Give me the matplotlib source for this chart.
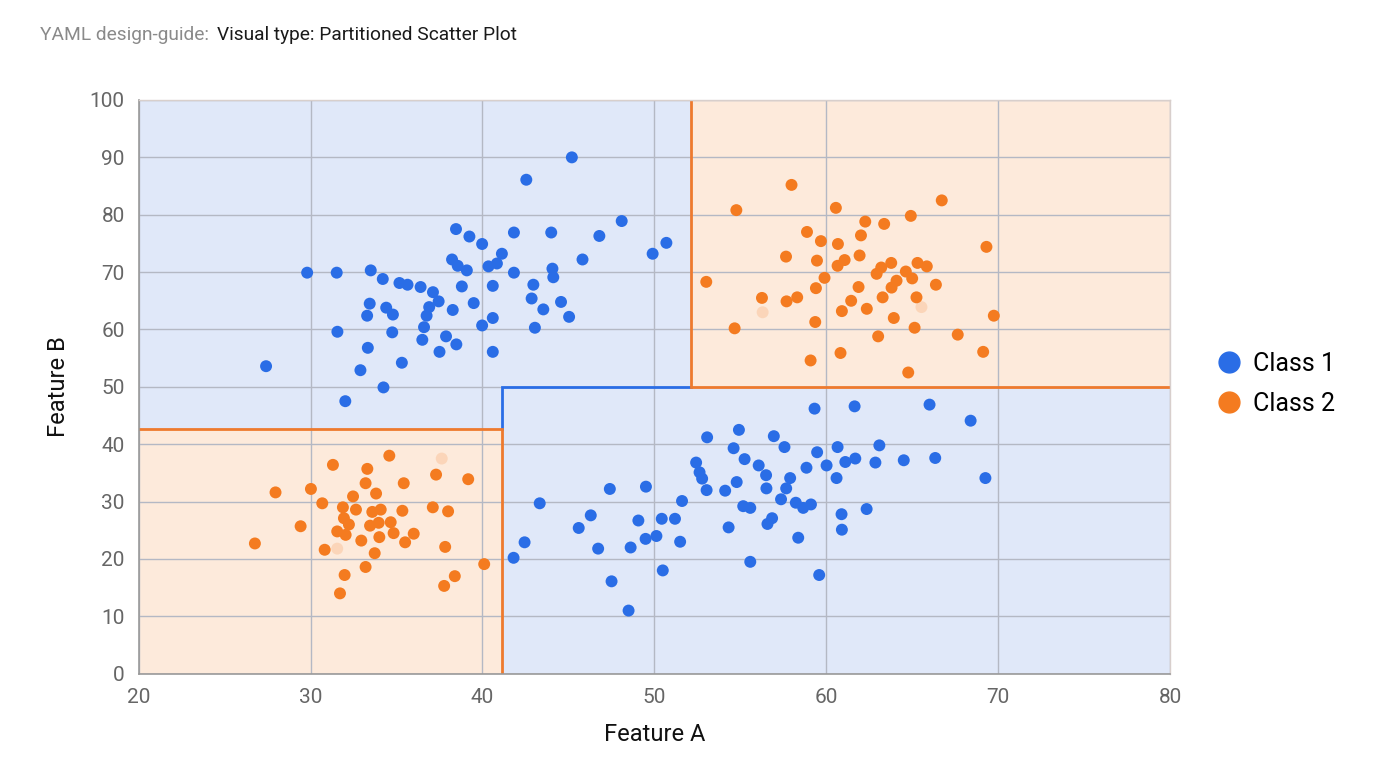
import numpy as np
import matplotlib.pyplot as plt
from matplotlib.lines import Line2D

# ---------------------------------------------------------------- data
class1_x = [45.2, 42.55, 38.46, 39.24, 39.98, 41.83, 44.0, 46.8, 41.13, 38.23,
            38.56, 39.09, 40.35, 40.84, 41.83, 44.07, 44.12, 45.82, 29.8, 31.52,
            33.5, 34.2, 35.17, 35.64, 36.4, 37.12, 37.45, 38.8, 40.6, 42.96,
            42.86, 43.54, 44.57, 45.04, 43.05, 39.49, 38.27, 36.9, 36.75, 36.6,
            36.5, 37.88, 38.48, 37.5, 40.6, 39.98, 40.6, 33.44, 34.4, 34.79,
            33.29, 34.75, 31.56, 33.33, 35.31, 32.9, 34.24, 32.02, 27.41, 48.1,
            49.9, 50.7,
            59.32, 61.65, 66.01, 68.4, 54.92, 53.07, 56.95, 57.57, 54.61, 55.25,
            52.43, 56.07, 59.47, 60.66, 63.09, 60.02, 61.11, 61.69, 62.86, 64.51,
            66.34, 58.85, 52.63, 52.78, 53.04, 56.5, 57.9, 60.6, 69.26, 54.79,
            54.12, 56.52, 57.67, 51.61, 57.37, 58.23, 58.66, 59.11, 55.17, 55.58,
            62.35, 60.89, 56.85, 56.58, 47.41, 49.51, 43.33, 46.3, 45.6, 49.07,
            50.43, 51.2, 50.12, 49.49, 51.5, 54.32, 60.91, 58.37, 42.45, 46.73,
            48.62, 41.81, 50.49, 55.58, 59.59, 47.51, 48.5]
class1_y = [90.0, 86.1, 77.5, 76.2, 74.9, 76.9, 76.9, 76.3, 73.2, 72.2,
            71.1, 70.3, 71.0, 71.5, 69.9, 70.6, 69.1, 72.2, 69.9, 69.9,
            70.3, 68.8, 68.1, 67.8, 67.4, 66.5, 64.9, 67.5, 67.6, 67.8,
            65.4, 63.5, 64.8, 62.2, 60.3, 64.6, 63.4, 63.9, 62.4, 60.4,
            58.2, 58.8, 57.4, 56.1, 62.0, 60.7, 56.1, 64.5, 63.8, 62.6,
            62.4, 59.5, 59.6, 56.8, 54.2, 52.9, 49.9, 47.5, 53.6, 78.9,
            73.2, 75.1,
            46.2, 46.6, 46.9, 44.1, 42.5, 41.2, 41.4, 39.5, 39.3, 37.4,
            36.8, 36.3, 38.6, 39.5, 39.8, 36.3, 36.9, 37.5, 36.8, 37.2,
            37.6, 35.9, 35.1, 34.0, 32.0, 34.6, 34.1, 34.1, 34.1, 33.4,
            31.9, 32.3, 32.3, 30.1, 30.4, 29.8, 28.9, 29.5, 29.2, 28.9,
            28.7, 27.8, 27.1, 26.1, 32.2, 32.6, 29.7, 27.6, 25.4, 26.7,
            27.0, 27.0, 24.0, 23.5, 23.0, 25.5, 25.1, 23.7, 22.9, 21.8,
            22.0, 20.2, 18.0, 19.5, 17.2, 16.1, 11.0]

class2_x = [57.98, 54.77, 60.56, 66.72, 64.92, 62.27, 63.37, 58.88, 59.69, 60.68,
            62.02, 69.32, 57.66, 59.46, 60.66, 61.07, 61.94, 62.93, 63.2, 63.78,
            64.63, 65.0, 65.31, 65.85, 53.02, 59.9, 59.4, 61.88, 63.8, 64.09,
            66.38, 56.26, 57.69, 58.31, 61.45, 63.28, 65.25, 60.91, 62.36, 63.93,
            59.36, 54.67, 65.14, 69.75, 67.65, 63.02, 60.83, 59.09, 69.13, 64.77,
            34.58, 31.3, 33.3, 33.2, 35.42, 37.3, 39.17, 27.96, 30.02, 32.47,
            33.81, 30.68, 31.88, 32.64, 33.59, 34.08, 35.34, 37.11, 38.0, 29.42,
            31.94, 32.23, 33.46, 33.96, 34.66, 31.55, 32.04, 32.95, 34.0, 34.83,
            35.5, 36.0, 26.76, 30.82, 33.73, 37.83, 33.2, 31.98, 40.1, 38.39,
            37.77, 31.71]
class2_y = [85.2, 80.8, 81.2, 82.5, 79.8, 78.8, 78.4, 77.0, 75.4, 74.9,
            76.4, 74.4, 72.7, 72.0, 71.1, 72.1, 72.9, 69.7, 70.8, 71.6,
            70.1, 68.9, 71.6, 71.0, 68.3, 69.0, 67.2, 67.4, 67.3, 68.5,
            67.8, 65.5, 64.9, 65.6, 65.0, 65.6, 65.6, 63.2, 63.6, 62.0,
            61.3, 60.2, 60.3, 62.4, 59.1, 58.8, 55.9, 54.6, 56.1, 52.5,
            38.0, 36.4, 35.7, 33.2, 33.2, 34.7, 33.9, 31.6, 32.2, 30.9,
            31.4, 29.7, 29.0, 28.6, 28.2, 28.6, 28.4, 29.0, 28.3, 25.7,
            27.1, 26.0, 25.8, 26.3, 26.4, 24.8, 24.2, 23.2, 23.8, 24.5,
            22.9, 24.4, 22.7, 21.6, 21.0, 22.1, 18.6, 17.2, 19.1, 17.0,
            15.3, 14.0]

# faded points sitting inside the orange regions
faint_x = [56.3, 65.54, 37.63, 31.55]
faint_y = [63.0, 63.9, 37.5, 21.8]

# partition boundaries
split_a_left = 41.15
split_b_left = 42.7
split_a_right = 52.15
split_b_right = 50.0

x_ticks = [20, 30, 40, 50, 60, 70, 80]
y_ticks = [0, 10, 20, 30, 40, 50, 60, 70, 80, 90, 100]

# ---------------------------------------------------------------- plot
plt.rcParams['font.family'] = ['Roboto', 'DejaVu Sans']

blue = '#2a6de6'
orange = '#f47b20'
blue_bg = '#e0e8f9'
orange_bg = '#fdeadb'


def main():
    fig = plt.figure(figsize=(13.76, 7.68), dpi=100)
    ax = fig.add_axes([0.1008, 0.1228, 0.7495, 0.747])

    xmin, xmax = x_ticks[0], x_ticks[-1]
    ymin, ymax = y_ticks[0], y_ticks[-1]

    ax.fill_between([xmin, xmax], ymin, ymax, color=blue_bg, lw=0, zorder=0.1)
    ax.fill_between([xmin, split_a_left], ymin, split_b_left, color=orange_bg, lw=0, zorder=0.2)
    ax.fill_between([split_a_right, xmax], split_b_right, ymax, color=orange_bg, lw=0, zorder=0.2)

    ax.set_axisbelow(True)
    ax.grid(True, color='#b4b8c4', lw=1.0)

    # boundaries
    ax.plot([split_a_left, split_a_left, split_a_right], [split_b_left, split_b_right, split_b_right],
            color=blue, lw=2.0, zorder=2, solid_joinstyle='miter')
    ax.plot([xmin, split_a_left, split_a_left], [split_b_left, split_b_left, ymin],
            color='#ee7a2e', lw=2.0, zorder=2, solid_joinstyle='miter')
    ax.plot([split_a_right, split_a_right, xmax], [ymax, split_b_right, split_b_right],
            color='#ee7a2e', lw=2.0, zorder=2, solid_joinstyle='miter')

    ax.scatter(class1_x, class1_y, s=74, color=blue, edgecolors='none', zorder=3)
    ax.scatter(class2_x, class2_y, s=74, color=orange, edgecolors='none', zorder=3)
    ax.scatter(faint_x, faint_y, s=74, color=orange, alpha=0.18, edgecolors='none', zorder=3)

    ax.set_xlim(xmin, xmax)
    ax.set_ylim(ymin, ymax)
    ax.set_xticks(x_ticks)
    ax.set_yticks(y_ticks)
    ax.tick_params(length=0, labelsize=15, labelcolor='#666666', pad=10)

    for side in ['top', 'right']:
        ax.spines[side].set_color('#d8cfcc')
        ax.spines[side].set_linewidth(1.0)
    for side in ['left', 'bottom']:
        ax.spines[side].set_color('#999999')
        ax.spines[side].set_linewidth(1.2)

    ax.set_xlabel('Feature A', fontsize=17, color='#111111', labelpad=12)
    ax.set_ylabel('Feature B', fontsize=17, color='#111111', labelpad=14)

    handles = [Line2D([], [], ls='none', marker='o', ms=15, color=blue, label='Class 1'),
               Line2D([], [], ls='none', marker='o', ms=15, color=orange, label='Class 2')]
    fig.legend(handles=handles, loc='center left', bbox_to_anchor=(0.868, 0.5),
               frameon=False, fontsize=18, handletextpad=0.45, labelspacing=0.65,
               handlelength=1.0)

    fig.text(40 / 1376, 0.954, 'YAML design-guide:', fontsize=13.8, color='#8a8a8a', va='center')
    fig.text(217 / 1376, 0.954, 'Visual type: Partitioned Scatter Plot', fontsize=13.8,
             color='#1a1a1a', va='center')

    fig.savefig('out.png', dpi=100)
    plt.close(fig)


if __name__ == "__main__":
    main()
